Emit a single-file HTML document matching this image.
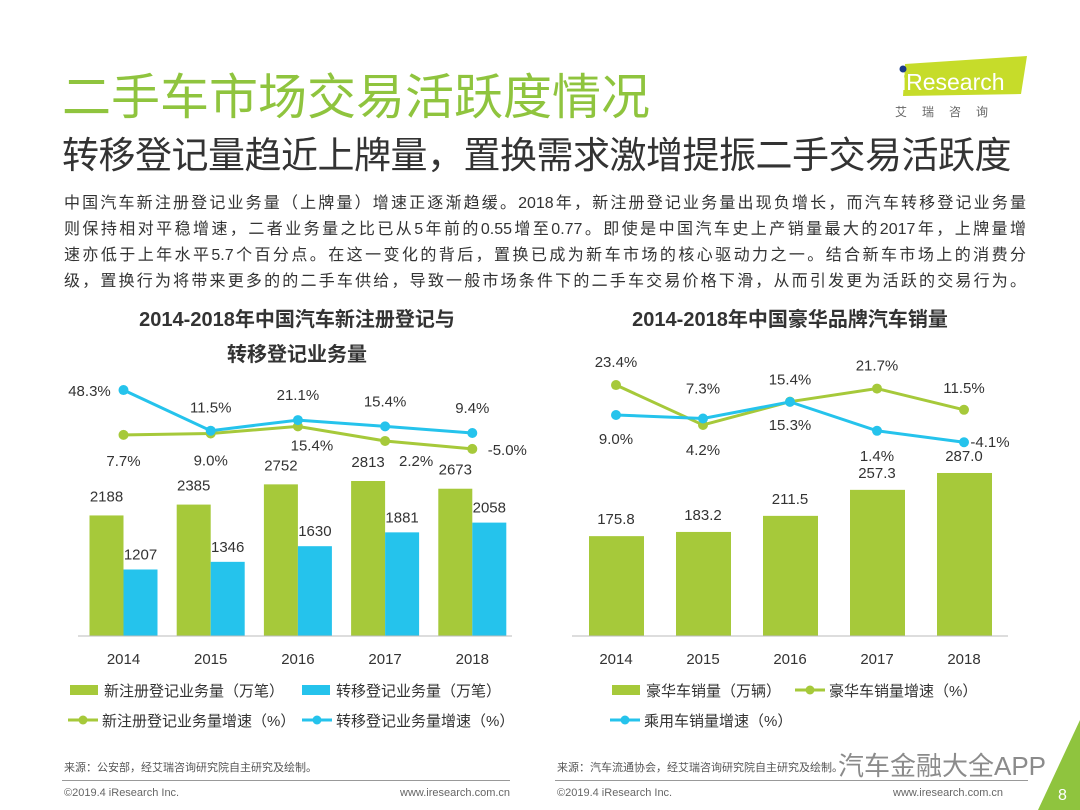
<!DOCTYPE html>
<html><head><meta charset="utf-8">
<style>
body{margin:0;background:#fff;}
#page{position:relative;width:1080px;height:810px;overflow:hidden;background:#fff;font-family:"Liberation Sans","Noto Sans CJK SC",sans-serif;}
.abs{position:absolute;white-space:nowrap;}
.pl{position:absolute;left:64px;width:962px;font-size:16px;color:#333;text-align:justify;text-align-last:justify;white-space:normal;}
svg text{font-family:"Liberation Sans","Noto Sans CJK SC",sans-serif;}
</style></head>
<body>
<div id="page">
<div class="abs" style="left:62px;top:58px;font-size:49px;color:#8fc43e;font-family:'Noto Sans CJK SC',sans-serif;font-weight:400;">二手车市场交易活跃度情况</div>
<div class="abs" style="left:62px;top:125px;font-size:37px;color:#333;font-family:'Noto Sans CJK SC',sans-serif;font-weight:400;letter-spacing:-0.5px;">转移登记量趋近上牌量，置换需求激增提振二手交易活跃度</div>
<div class="abs" style="left:893px;top:56px;width:136px;height:46px;">
 <svg width="136" height="64"><polygon points="12,8 134,0 128,38 10,40" fill="#c6dc2a"/><circle cx="10" cy="13" r="3.5" fill="#1a3a8a"/><text x="8" y="34" font-size="23" fill="#fff">iResearch</text><text x="2" y="60" font-size="12" fill="#666" letter-spacing="15">艾瑞咨询</text></svg>
</div>
<div>
<div class="pl" style="top:189px;">中国汽车新注册登记业务量（上牌量）增速正逐渐趋缓。2018年，新注册登记业务量出现负增长，而汽车转移登记业务量</div>
<div class="pl" style="top:215px;">则保持相对平稳增速，二者业务量之比已从5年前的0.55增至0.77。即使是中国汽车史上产销量最大的2017年，上牌量增</div>
<div class="pl" style="top:241px;">速亦低于上年水平5.7个百分点。在这一变化的背后，置换已成为新车市场的核心驱动力之一。结合新车市场上的消费分</div>
<div class="pl" style="top:267px;">级，置换行为将带来更多的的二手车供给，导致一般市场条件下的二手车交易价格下滑，从而引发更为活跃的交易行为。</div>
</div>

<svg id="chart" class="abs" style="left:0;top:0" width="1080" height="810"></svg>

<div class="abs" style="left:64px;top:759px;font-size:11px;color:#555;">来源：公安部，经艾瑞咨询研究院自主研究及绘制。</div>
<div class="abs" style="left:557px;top:759px;font-size:11px;color:#555;">来源：汽车流通协会，经艾瑞咨询研究院自主研究及绘制。</div>
<div class="abs" style="left:62px;top:780px;width:448px;height:1px;background:#999;"></div>
<div class="abs" style="left:555px;top:780px;width:473px;height:1px;background:#999;"></div>
<div class="abs" style="left:64px;top:787px;font-size:11px;color:#666;">©2019.4 iResearch Inc.</div>
<div class="abs" style="left:400px;top:787px;font-size:11px;color:#666;">www.iresearch.com.cn</div>
<div class="abs" style="left:557px;top:787px;font-size:11px;color:#666;">©2019.4 iResearch Inc.</div>
<div class="abs" style="left:893px;top:787px;font-size:11px;color:#666;">www.iresearch.com.cn</div>
<div class="abs" style="left:838px;top:746px;font-size:26px;color:#777;opacity:0.85;">汽车金融大全APP</div>
<svg class="abs" style="left:1030px;top:720px" width="50" height="90"><polygon points="50,0 50,90 8,90" fill="#8fc43e"/><text x="28" y="80" font-size="16" fill="#fff">8</text></svg>

<script>
const years=['2014','2015','2016','2017','2018'];
const newReg=[2188,2385,2752,2813,2673];
const transfer=[1207,1346,1630,1881,2058];
const newRegGrowth=[7.7,9.0,15.4,2.2,-5.0];
const transferGrowth=[48.3,11.5,21.1,15.4,9.4];
const luxSales=[175.8,183.2,211.5,257.3,287.0];
const luxGrowth=[23.4,4.2,15.4,21.7,11.5];
const passGrowth=[9.0,7.3,15.3,1.4,-4.1];

const G='#a6c93a',B='#25c3ec',NS='http://www.w3.org/2000/svg';
const svg=document.getElementById('chart');
function el(t,a,p){const e=document.createElementNS(NS,t);for(const k in a)e.setAttribute(k,a[k]);(p||svg).appendChild(e);return e;}
function txt(x,y,s,size,anchor,fill,weight){const e=el('text',{x:x,y:y,'font-size':size,'text-anchor':anchor||'middle',fill:fill||'#333','font-weight':weight||'normal'});e.textContent=s;return e;}
const fmt=v=>v.toFixed(1)+'%';

const lx=i=>123.5+i*87.2, base=636;
const ly=v=>base-v*0.0551;
const lg=v=>443.4-v*1.105;
let t=txt(297,326,'2014-2018年中国汽车新注册登记与',20,'middle','#333','bold');


t=txt(297,361,'转移登记业务量',20,'middle','#333','bold');


years.forEach((y,i)=>{
 let r=el('rect',{x:lx(i)-34,y:ly(newReg[i]),width:34,height:base-ly(newReg[i]),fill:G});
 
 
 r=el('rect',{x:lx(i),y:ly(transfer[i]),width:34,height:base-ly(transfer[i]),fill:B});
 
 
 txt(lx(i)-17,ly(newReg[i])-14,String(newReg[i]),15);
 txt(lx(i)+17,ly(transfer[i])-10,String(transfer[i]),15);
 let x=txt(lx(i),664,y,15,'middle','#333');
 
 
});
el('line',{x1:78,y1:base,x2:512,y2:base,stroke:'#bbb'});
function series(xf,yf,vals,col,name){
 const p=el('polyline',{points:vals.map((v,i)=>xf(i)+','+yf(v)).join(' '),fill:'none',stroke:col,'stroke-width':3});
 
 
 vals.forEach((v,i)=>{const c=el('circle',{cx:xf(i),cy:yf(v),r:5,fill:col});
  
  });
}
series(lx,lg,newRegGrowth,G,'new-reg-growth');
series(lx,lg,transferGrowth,B,'transfer-growth');
const nrOff=[[0,31],[0,32],[14,24],[31,25],[35,6]];
const trOff=[[-34,6],[0,-18],[0,-20],[0,-20],[0,-20]];
newRegGrowth.forEach((v,i)=>txt(lx(i)+nrOff[i][0],lg(v)+nrOff[i][1],fmt(v),15));
transferGrowth.forEach((v,i)=>txt(lx(i)+trOff[i][0],lg(v)+trOff[i][1],fmt(v),15));

const rx=i=>616+i*87, ry=v=>base-v*0.568, rg=v=>433.7-v*2.08;
t=txt(790,326,'2014-2018年中国豪华品牌汽车销量',20,'middle','#333','bold');


years.forEach((y,i)=>{
 let r=el('rect',{x:rx(i)-27,y:ry(luxSales[i]),width:55,height:base-ry(luxSales[i]),fill:G});
 
 
 txt(rx(i),ry(luxSales[i])-12,luxSales[i].toFixed(1),15);
 let x=txt(rx(i),664,y,15);
 
 
});
el('line',{x1:572,y1:base,x2:1008,y2:base,stroke:'#bbb'});
series(rx,rg,luxGrowth,G,'lux-growth');
series(rx,rg,passGrowth,B,'passenger-growth');
const lgOff=[[0,-18],[0,30],[0,-17],[0,-18],[0,-17]];
const pgOff=[[0,29],[0,-25],[0,28],[0,30],[26,5]];
luxGrowth.forEach((v,i)=>txt(rx(i)+lgOff[i][0],rg(v)+lgOff[i][1],fmt(v),15));
passGrowth.forEach((v,i)=>txt(rx(i)+pgOff[i][0],rg(v)+pgOff[i][1],fmt(v),15));

function legRect(x,y,col,label,name){const g=el('g',{});
 el('rect',{x:x,y:y-5,width:28,height:10,fill:col},g);const e=txt(x+34,y+6,label,15,'start');g.appendChild(e);}
function legLine(x,y,col,label,name){const g=el('g',{});
 el('line',{x1:x,y1:y,x2:x+30,y2:y,stroke:col,'stroke-width':3},g);el('circle',{cx:x+15,cy:y,r:4.5,fill:col},g);const e=txt(x+34,y+6,label,15,'start');g.appendChild(e);}
legRect(70,690,G,'新注册登记业务量（万笔）','legend-new-reg');
legRect(302,690,B,'转移登记业务量（万笔）','legend-transfer');
legLine(68,720,G,'新注册登记业务量增速（%）','legend-new-reg-growth');
legLine(302,720,B,'转移登记业务量增速（%）','legend-transfer-growth');
legRect(612,690,G,'豪华车销量（万辆）','legend-lux-sales');
legLine(795,690,G,'豪华车销量增速（%）','legend-lux-growth');
legLine(610,720,B,'乘用车销量增速（%）','legend-passenger-growth');
</script>
</div>
</body></html>
